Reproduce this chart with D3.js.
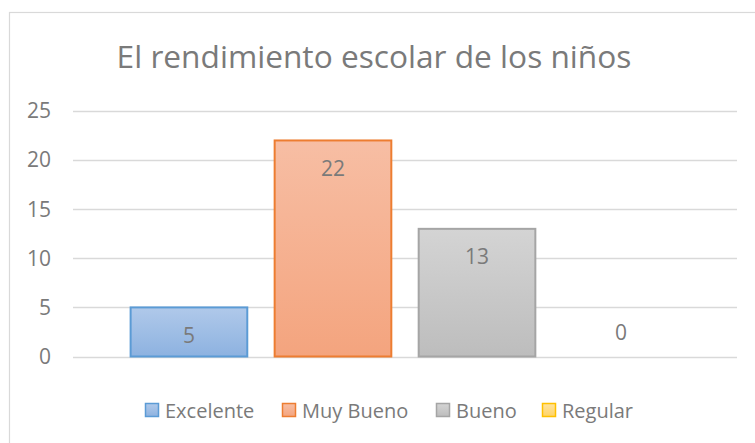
<!DOCTYPE html>
<html>
<head>
<meta charset="utf-8">
<title>El rendimiento escolar de los niños</title>
<script src="https://cdn.jsdelivr.net/npm/d3@7"></script>
<style>
  body { margin: 0; background: #fff; }
  text { font-family: "Open Sans", sans-serif; fill: #7a7a7a; }
</style>
</head>
<body>
<script>
// data
var series = ["Excelente", "Muy Bueno", "Bueno", "Regular"];
var values = [5, 22, 13, 0];
var yTicks = [0, 5, 10, 15, 20, 25];
var title = "El rendimiento escolar de los niños";

var w = 755, h = 443;
var plotLeft = 73, plotRight = 737, plotTop = 111, plotBottom = 356.5;

// colours: border, gradient top, gradient bottom
var strokes = ["#5b9bd5", "#ed7d31", "#a5a5a5", "#ffc000"];
var topFill = ["#b0c9ea", "#f7bea4", "#d4d4d4", "#ffe3a0"];
var botFill = ["#8db2e0", "#f4a47e", "#bdbdbd", "#ffd466"];

var svg = d3.select("body").append("svg")
    .attr("width", w)
    .attr("height", h);

var defs = svg.append("defs");
series.forEach(function (s, i) {
    var g = defs.append("linearGradient")
        .attr("id", "grad" + i)
        .attr("x1", 0).attr("y1", 0).attr("x2", 0).attr("y2", 1);
    g.append("stop").attr("offset", "0%").attr("stop-color", topFill[i]);
    g.append("stop").attr("offset", "100%").attr("stop-color", botFill[i]);
});

// chart frame
svg.append("rect")
    .attr("x", 9.5).attr("y", 12.5)
    .attr("width", 760).attr("height", 450)
    .attr("fill", "#fff")
    .attr("stroke", "#d9d9d9")
    .attr("stroke-width", 1.2);

var y = d3.scaleLinear().domain([0, 25]).range([plotBottom, plotTop]);
var x = d3.scaleBand().domain(series).range([plotLeft, plotRight])
    .paddingInner(0.19).paddingOuter(0.4);

// gridlines
svg.selectAll("line.grid")
    .data(yTicks)
    .enter()
    .append("line")
    .attr("class", "grid")
    .attr("x1", plotLeft).attr("x2", plotRight)
    .attr("y1", function (d) { return Math.round(y(d)) + 0.5; })
    .attr("y2", function (d) { return Math.round(y(d)) + 0.5; })
    .attr("stroke", "#d9d9d9")
    .attr("stroke-width", 1.3);

// y tick labels
svg.selectAll("text.ytick")
    .data(yTicks)
    .enter()
    .append("text")
    .attr("class", "ytick")
    .attr("x", 51)
    .attr("y", function (d) { return y(d); })
    .attr("dy", "0.35em")
    .attr("text-anchor", "end")
    .style("font-size", "21px")
    .text(function (d) { return d; });

// bars
svg.selectAll("rect.bar")
    .data(values)
    .enter()
    .append("rect")
    .attr("class", "bar")
    .attr("x", function (d, i) { return x(series[i]); })
    .attr("y", function (d) { return y(d); })
    .attr("width", x.bandwidth())
    .attr("height", function (d) { return y(0) - y(d); })
    .attr("fill", function (d, i) { return "url(#grad" + i + ")"; })
    .attr("stroke", function (d, i) { return strokes[i]; })
    .attr("stroke-width", function (d) { return d > 0 ? 2 : 0; });

// data labels (inside end)
svg.selectAll("text.val")
    .data(values)
    .enter()
    .append("text")
    .attr("class", "val")
    .attr("x", function (d, i) { return x(series[i]) + x.bandwidth() / 2; })
    .attr("y", function (d) { return y(d) + (d > 0 ? 28 : -24); })
    .attr("dy", "0.35em")
    .attr("text-anchor", "middle")
    .style("font-size", "21px")
    .text(function (d) { return d; });

// title, sized to span roughly 515px
var t = svg.append("text")
    .attr("x", 374)
    .attr("y", 68)
    .attr("text-anchor", "middle")
    .style("font-size", "28px")
    .text(title);
var tw = t.node().getComputedTextLength();
t.style("font-size", (28 * 515 / tw) + "px");

// legend
var legendX = [145, 282, 436, 542];
var leg = svg.selectAll("g.leg")
    .data(series)
    .enter()
    .append("g")
    .attr("class", "leg")
    .attr("transform", function (d, i) { return "translate(" + legendX[i] + ",403)"; });
leg.append("rect")
    .attr("x", 0.5).attr("y", 0.5)
    .attr("width", 13).attr("height", 13)
    .attr("fill", function (d, i) { return "url(#grad" + i + ")"; })
    .attr("stroke", function (d, i) { return strokes[i]; })
    .attr("stroke-width", 1.5);
leg.append("text")
    .attr("x", 20)
    .attr("y", 7.5)
    .attr("dy", "0.35em")
    .style("font-size", "20px")
    .text(function (d) { return d; });
</script>
</body>
</html>
